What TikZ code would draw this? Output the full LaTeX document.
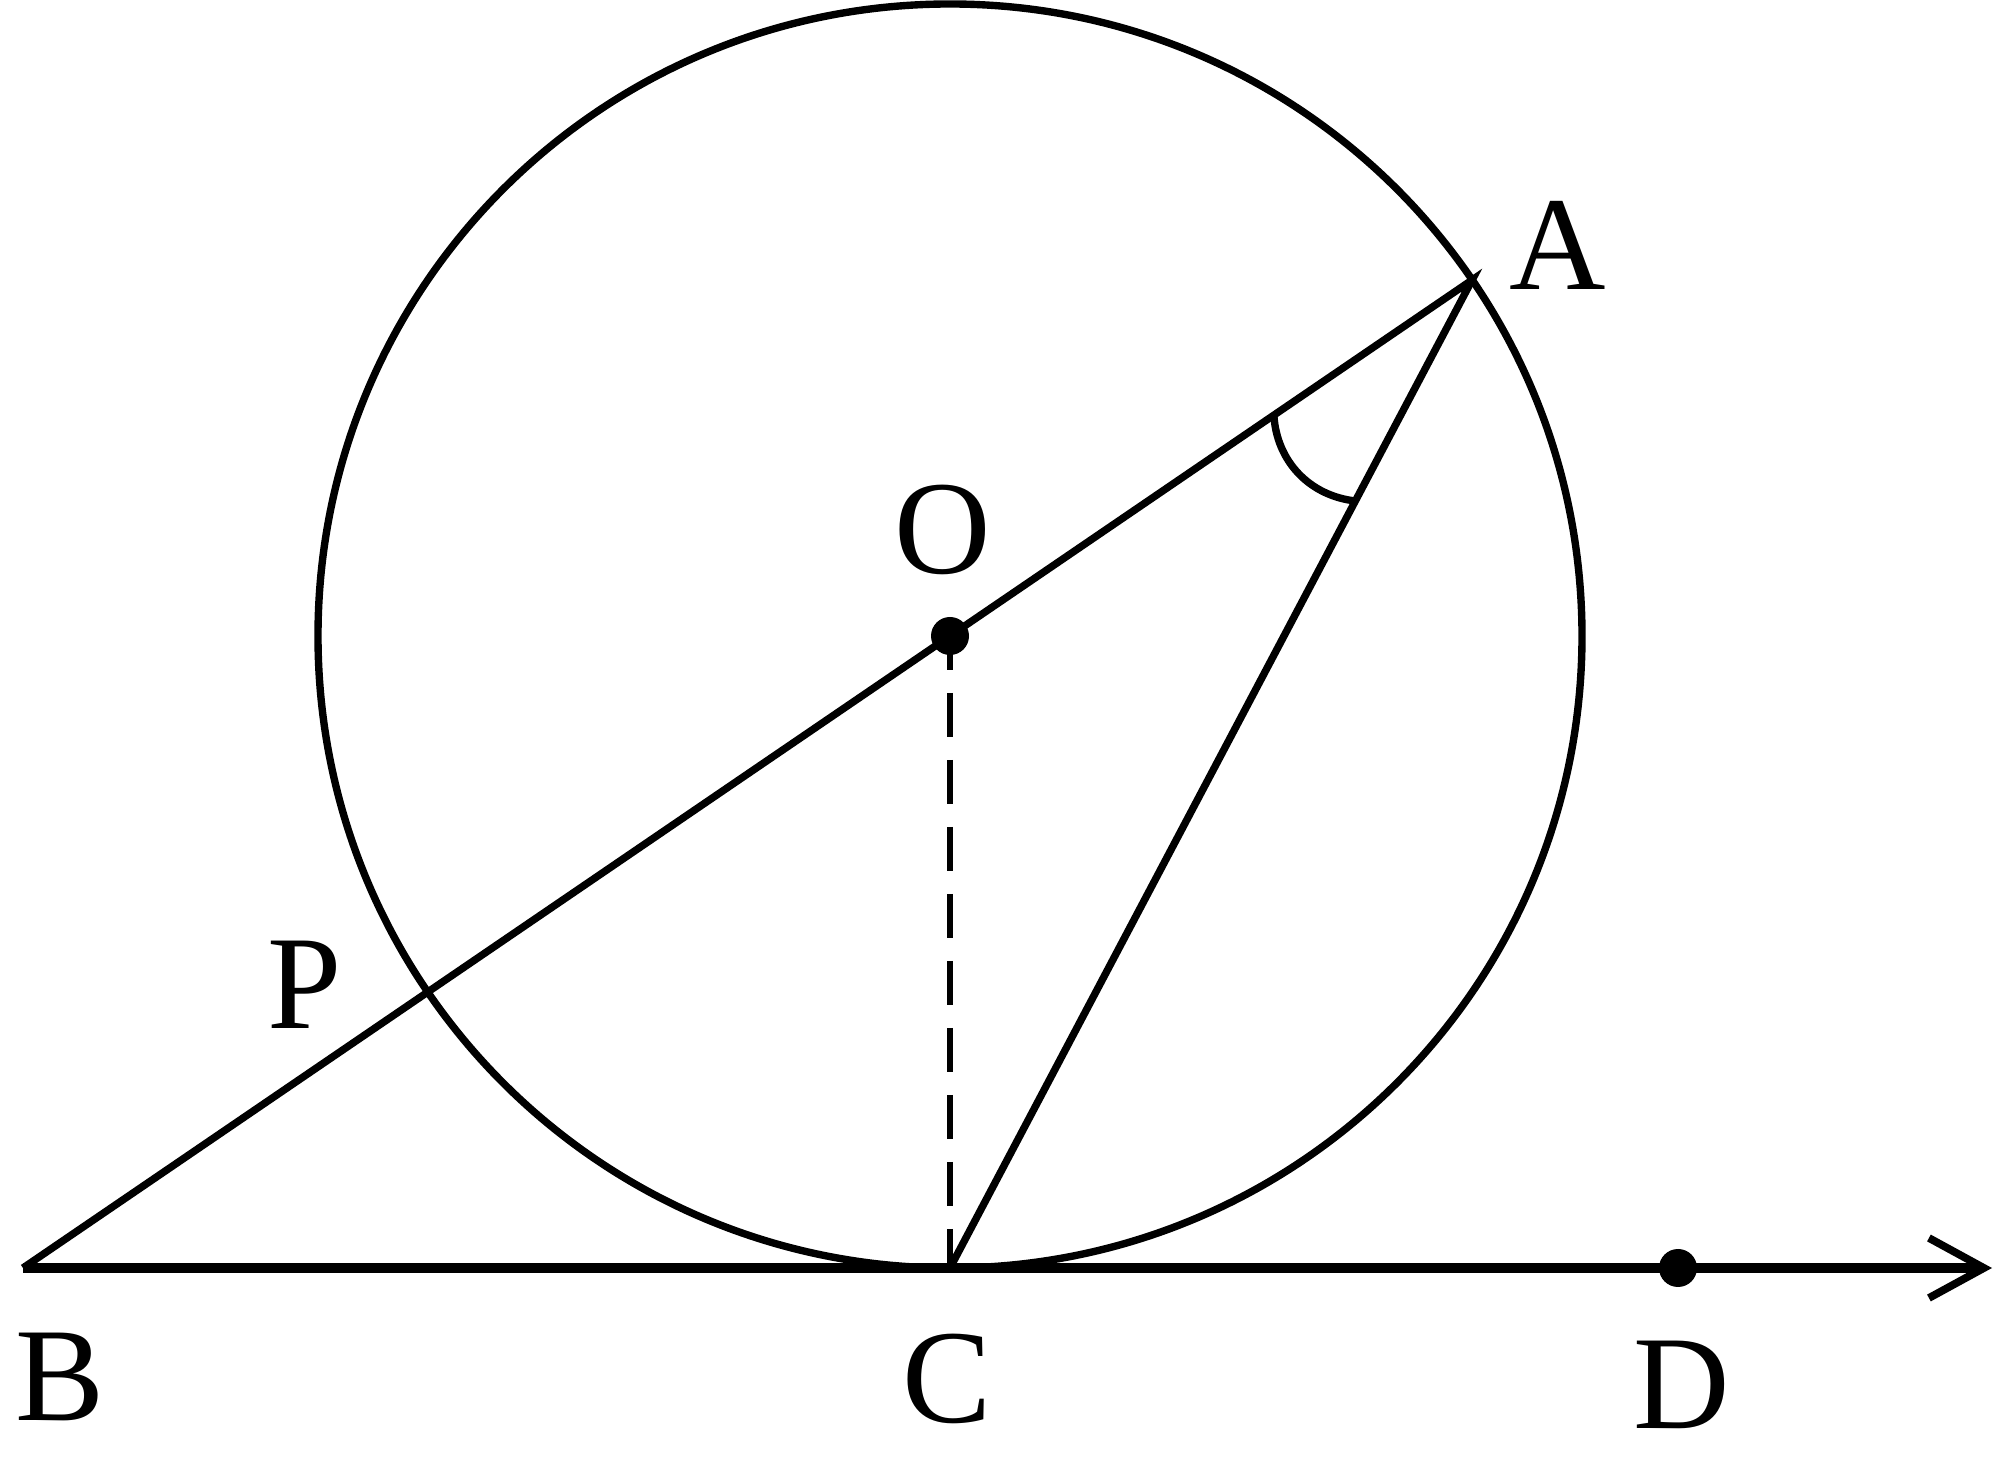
\documentclass[tikz,border=0pt]{standalone}
\usepackage{fontspec}
\setmainfont{Liberation Serif}
\usetikzlibrary{arrows.meta, positioning, calc}

\begin{document}
\begin{tikzpicture}[line width=2.1pt,
    lbl/.style={font=\fontsize{38}{40}\selectfont, inner sep=0pt},
    pt/.style={circle, fill=black, inner sep=0pt, minimum size=3.8mm}]
    \useasboundingbox (0,0) rectangle (20,14.66);

    \coordinate (O) at (9.50, 8.30);
    \coordinate (C) at (9.50, 1.98);
    \coordinate (B) at (0.23, 1.98);
    \coordinate (D) at (16.78, 1.98);
    \coordinate (E) at (19.92, 1.98);
    \coordinate (A) at ($(O)+(34.29:6.32)$);
    \coordinate (P) at ($(O)+(214.29:6.32)$);
    \coordinate (a1) at ($(A)!2.40cm!(O)$);
    \coordinate (a2) at ($(A)!2.50cm!(C)$);

    \draw (O) circle (6.32cm);
    \draw[line width=2.7pt, -{Straight Barb[length=5.5mm, width=6mm, line width=2.2pt]}] (B) -- (E);
    \draw (B) -- (A) -- (C);
    \draw[line width=1.9pt, dash pattern=on 0.44cm off 0.23cm, dash phase=0.1cm] (O) -- (C);
    \draw (a1) to[bend right=40] (a2);

    \node[pt] (dotO) at (O) {};
    \node[pt] (dotD) at (D) {};

    % labels
    \node[lbl] (lblA) at ($(A)+(0.86,0.35)$) {A};
    \node[lbl] (lblO) at ($(O)+(-0.07,1.06)$) {O};
    \node[lbl] (lblP) at ($(P)+(-1.23,0.07)$) {P};
    \node[lbl] (lblB) at ($(B)+(0.37,-1.09)$) {B};
    \node[lbl] (lblC) at ($(C)+(-0.03,-1.11)$) {C};
    \node[lbl] (lblD) at ($(D)+(0.04,-1.17)$) {D};
\end{tikzpicture}
\end{document}
